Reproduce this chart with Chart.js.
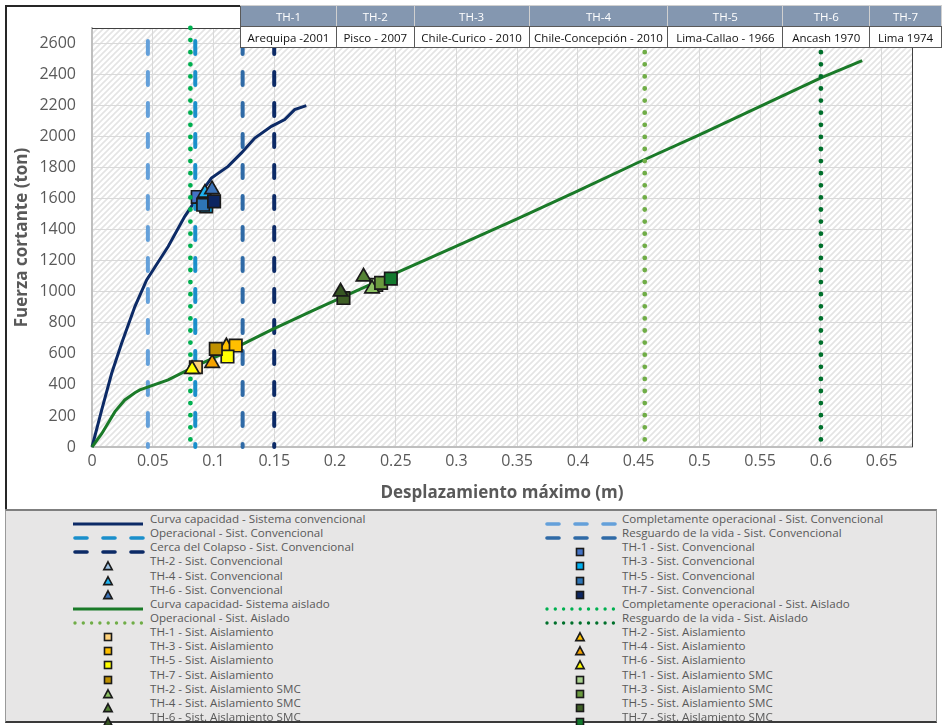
<!DOCTYPE html>
<html><head><meta charset="utf-8">
<script src="https://cdn.jsdelivr.net/npm/chart.js@4.4.0/dist/chart.umd.min.js"></script>
<style>
html,body{margin:0;padding:0;background:#fff;width:942px;height:725px;overflow:hidden;font-family:'Open Sans',sans-serif;}
#wrap{position:relative;width:942px;height:725px;}
#frame{position:absolute;left:5px;top:5px;width:945px;height:510px;border-left:2px solid #262626;border-top:2px solid #262626;box-sizing:border-box;}
#c{position:absolute;left:0;top:0;}
#tbl{position:absolute;left:240px;top:5px;border-collapse:collapse;table-layout:fixed;font-size:11.5px;}
#tbl td{border:1px solid #595959;height:20px;padding:0;text-align:center;white-space:nowrap;overflow:hidden;}
#tbl tr.h td{background:#8497b0;color:#fff;border-color:#d0d0d0 #d0d0d0 #595959 #d0d0d0;}
#tbl tr.h td:first-child{border-left-color:#595959;}
#tbl tr.b td{background:#fff;color:#111;}
#legend{position:absolute;left:5px;top:509px;width:932px;height:214px;background:#e7e6e6;border-top:2px solid #7f7f7f;border-bottom:2px solid #3a3a3a;border-left:1px solid #9a9a9a;border-right:1px solid #9a9a9a;box-sizing:border-box;}
.lt{position:absolute;font-size:11.6px;line-height:14px;color:#595959;white-space:nowrap;}
.ls{position:absolute;}
</style>
</head><body>
<div id="wrap">
<div id="frame"></div>
<canvas id="c" width="942" height="725"></canvas>
<table id="tbl"><tbody><tr class="h" id="thRow"></tr><tr class="b" id="evRow"></tr></tbody></table>
<div id="legend"></div>
</div>
<script>
// ---------------- DATA ----------------
const xMax = 0.675, yMax = 2700;
const xTickValues = [0,0.05,0.1,0.15,0.2,0.25,0.3,0.35,0.4,0.45,0.5,0.55,0.6,0.65];
const yTickValues = [0,200,400,600,800,1000,1200,1400,1600,1800,2000,2200,2400,2600];

const thNames = ['TH-1','TH-2','TH-3','TH-4','TH-5','TH-6','TH-7'];
const thEvents = ['Arequipa -2001','Pisco - 2007','Chile-Curico - 2010','Chile-Concepción - 2010','Lima-Callao - 1966','Ancash 1970','Lima 1974'];

// Capacity curves
const convCurveX = [0, 0.008, 0.0162, 0.0244, 0.0353, 0.045, 0.0504, 0.0627, 0.0764, 0.0874, 0.0983, 0.112, 0.123, 0.134, 0.1477, 0.1586, 0.1668, 0.1764];
const convCurveY = [0, 239, 475, 669, 905, 1077, 1142, 1292, 1486, 1615, 1733, 1808, 1895, 1991, 2066, 2110, 2174, 2200];
const aislCurveX = [0, 0.008, 0.0189, 0.027, 0.0353, 0.0394, 0.0627, 0.0819, 0.1175, 0.1477, 0.183, 0.25, 0.3, 0.35, 0.4, 0.45, 0.5, 0.55, 0.6, 0.634];
const aislCurveY = [0, 86, 228, 303, 350, 368, 432, 508, 637, 755, 884, 1120, 1295, 1470, 1650, 1835, 2012, 2195, 2378, 2490];

// Performance limits (displacement, m)
const convLimitX = [0.046, 0.085, 0.124, 0.150];   // Completamente operacional, Operacional, Resguardo de la vida, Cerca del Colapso
const aislLimitX = [0.081, 0.455, 0.600];          // Completamente operacional, Operacional, Resguardo de la vida

// Time-history results, TH-1..TH-7
const convDispX  = [0.087, 0.092, 0.094, 0.093, 0.0915, 0.0988, 0.1005];
const convShearY = [1611, 1605, 1550, 1637, 1561, 1660, 1583];
const aislDispX  = [0.0855, 0.1106, 0.1183, 0.0989, 0.1115, 0.0824, 0.1019];
const aislShearY = [514, 647, 654, 540, 583, 501, 632];
const smcDispX   = [0.234, 0.2305, 0.238, 0.2235, 0.207, 0.2046, 0.246];
const smcShearY  = [1045, 1020, 1058, 1097, 960, 1000, 1085];

// ---------------- STYLE ----------------
const convColors = ['#4472c4','#9dc3e6','#00b0f0','#1fb2ef','#2e75b6','#3c73b8','#0c2560'];
const aislColors = ['#ffd27a','#ffc000','#ffbf00','#f5a300','#ffff00','#ffff00','#bf9000'];
const smcColors  = ['#a9d18e','#8cc063','#6b9a3f','#548235','#3f5f26','#375623','#137a2e'];
const shapes = ['rect','triangle','rect','triangle','rect','triangle','rect'];

Chart.defaults.font.family = 'Open Sans';
Chart.defaults.font.size = 16;

// table
document.getElementById('thRow').innerHTML = thNames.map(n=>'<td>'+n+'</td>').join('');
document.getElementById('evRow').innerHTML = thEvents.map(n=>'<td>'+n+'</td>').join('');
const colW = [96,78,115,139,115,87,72];
document.querySelectorAll('#thRow td').forEach((td,i)=>td.style.width=(colW[i]-1)+'px');

const datasets = [];
function addLine(label, xs, ys, color, width, kind) {
  datasets.push({label, data: xs.map((x,i)=>({x, y: ys[i]})), showLine:true, borderColor:color, backgroundColor:color,
    borderWidth:width, pointRadius:0, pointHoverRadius:0, tension:0, _kind:kind,
    borderDash: kind==='dash' ? [13,18] : kind==='dot' ? [0,12.1] : [],
    borderDashOffset: kind==='dash' ? 18 : 0,
    borderCapStyle: kind==='solid' ? 'butt' : 'round', clip:false});
}
function addVLine(label, x, color, width, kind) {
  addLine(label, [x, x], [yMax, 0], color, width, kind);
}
function addPoint(label, x, y, color, shape) {
  const r = shape==='rect' ? 8.8 : 8.3;
  datasets.push({label, data:[{x,y}], showLine:false, pointStyle:shape, pointRadius:r,
    pointHoverRadius:r, pointBackgroundColor:color, pointBorderColor:'#1a1a1a', pointBorderWidth:1.7,
    backgroundColor:color, borderColor:'#1a1a1a', _kind:'marker', _shape:shape});
}

addLine('Curva capacidad - Sistema convencional', convCurveX, convCurveY, '#0c2a66', 3, 'solid');
addVLine('Completamente operacional - Sist. Convencional', convLimitX[0], '#64a0da', 4, 'dash');
addVLine('Operacional - Sist. Convencional', convLimitX[1], '#1a8fcb', 4, 'dash');
addVLine('Resguardo de la vida - Sist. Convencional', convLimitX[2], '#2f6aa6', 4, 'dash');
addVLine('Cerca del Colapso - Sist. Convencional', convLimitX[3], '#0c2a66', 4, 'dash');
thNames.forEach((n,i)=>addPoint(n+' - Sist. Convencional', convDispX[i], convShearY[i], convColors[i], shapes[i]));
addLine('Curva capacidad- Sistema aislado', aislCurveX, aislCurveY, '#1a7a28', 3, 'solid');
addVLine('Completamente operacional - Sist. Aislado', aislLimitX[0], '#00b050', 4.8, 'dot');
addVLine('Operacional - Sist. Aislado', aislLimitX[1], '#70ad47', 4.8, 'dot');
addVLine('Resguardo de la vida - Sist. Aislado', aislLimitX[2], '#00702b', 4.8, 'dot');
thNames.forEach((n,i)=>addPoint(n+' - Sist. Aislamiento', aislDispX[i], aislShearY[i], aislColors[i], shapes[i]));
thNames.forEach((n,i)=>addPoint(n+' - Sist. Aislamiento SMC', smcDispX[i], smcShearY[i], smcColors[i], shapes[i]));
datasets.forEach((d,i)=>d.order = -i);

// hatch pattern
function makePattern(ctx){
  const p = document.createElement('canvas'); p.width = 6; p.height = 6;
  const c = p.getContext('2d');
  c.fillStyle = '#ffffff'; c.fillRect(0,0,6,6);
  c.strokeStyle = '#e4e4e4'; c.lineWidth = 1.6;
  c.beginPath(); c.moveTo(-1,7); c.lineTo(7,-1); c.moveTo(-4,4); c.lineTo(4,-4); c.moveTo(2,10); c.lineTo(10,2); c.stroke();
  return ctx.createPattern(p,'repeat');
}
const bgPlugin = {
  id:'bg',
  beforeDraw(chart){
    const {ctx, chartArea:a} = chart;
    ctx.save(); ctx.fillStyle = makePattern(ctx); ctx.fillRect(a.left,a.top,a.right-a.left,a.bottom-a.top); ctx.restore();
  },
  beforeDatasetsDraw(chart){
    const {ctx, chartArea:a} = chart;
    ctx.save(); ctx.strokeStyle = '#404040'; ctx.lineWidth = 1;
    ctx.beginPath(); ctx.moveTo(a.left, a.top+0.5); ctx.lineTo(a.right+0.5, a.top+0.5); ctx.lineTo(a.right+0.5, a.bottom); ctx.stroke();
    ctx.restore();
  }
};

const tickFont = () => ({family:'Open Sans', size:16, weight:'normal'});
const titleFont = () => ({family:'Open Sans', size:17, weight:'bold'});
const chart = new Chart(document.getElementById('c'), {
  type:'scatter',
  data:{datasets},
  options:{
    responsive:false, animation:false, devicePixelRatio:1,
    layout:{padding:{left:0, top:28, right:30, bottom:218}},
    plugins:{legend:{display:false}, tooltip:{enabled:false}},
    scales:{
      x:{type:'linear', min:0, max:xMax,
        afterFit(s){ s.height = 60; },
        afterBuildTicks(s){ s.ticks = xTickValues.map(v=>({value:v})); },
        ticks:{color:'#595959', font:tickFont, padding:5, maxRotation:0, minRotation:0, autoSkip:false,
          callback:v=>String(+(+v).toFixed(2))},
        grid:{color:'#d9d9d9', lineWidth:1, drawTicks:false},
        border:{color:'#bfbfbf', width:2},
        title:{display:true, text:'Desplazamiento máximo (m)', color:'#595959', font:titleFont, padding:{top:0,bottom:4}}
      },
      y:{type:'linear', min:0, max:yMax,
        afterFit(s){ s.width = 92; },
        afterBuildTicks(s){ s.ticks = yTickValues.map(v=>({value:v})); },
        ticks:{color:'#595959', font:tickFont, padding:16, autoSkip:false,
          callback:v=>String(v)},
        grid:{color:'#d9d9d9', lineWidth:1, drawTicks:false},
        border:{color:'#bfbfbf', width:2},
        title:{display:true, text:'Fuerza cortante (ton)', color:'#595959', font:titleFont, padding:{top:12,bottom:0}}
      }
    }
  },
  plugins:[bgPlugin]
});

// ---------------- LEGEND (HTML, built from datasets) ----------------
const leg = document.getElementById('legend');
const ns = 'http://www.w3.org/2000/svg';
datasets.forEach((d,i)=>{
  const col = i%2, row = Math.floor(i/2);
  const cy = 519 + row*14.14 - 511;
  const symX = (col===0 ? 73 : 545) - 6;
  const txtX = (col===0 ? 150 : 622) - 6;
  let svg = '';
  if (d._kind==='solid') svg = `<line x1="0" y1="6" x2="70" y2="6" stroke="${d.borderColor}" stroke-width="3"/>`;
  else if (d._kind==='dash') svg = `<line x1="2" y1="6" x2="70" y2="6" stroke="${d.borderColor}" stroke-width="3.6" stroke-dasharray="12 16" stroke-linecap="round"/>`;
  else if (d._kind==='dot') svg = `<line x1="2" y1="6" x2="70" y2="6" stroke="${d.borderColor}" stroke-width="3.4" stroke-dasharray="0 8.3" stroke-linecap="round"/>`;
  else if (d._shape==='rect') svg = `<rect x="31.5" y="2.5" width="7" height="7" fill="${d.backgroundColor}" stroke="#1a1a1a" stroke-width="1.6"/>`;
  else svg = `<polygon points="35,1.8 39.2,9.6 30.8,9.6" fill="${d.backgroundColor}" stroke="#1a1a1a" stroke-width="1.6" stroke-linejoin="miter"/>`;
  const s = document.createElement('div'); s.className='ls';
  s.style.left = symX+'px'; s.style.top = (cy-6)+'px';
  s.innerHTML = `<svg xmlns="${ns}" width="72" height="12">${svg}</svg>`;
  leg.appendChild(s);
  const t = document.createElement('div'); t.className='lt';
  t.style.left = txtX+'px'; t.style.top = (cy-7)+'px'; t.textContent = d.label;
  leg.appendChild(t);
});
</script>
</body></html>
